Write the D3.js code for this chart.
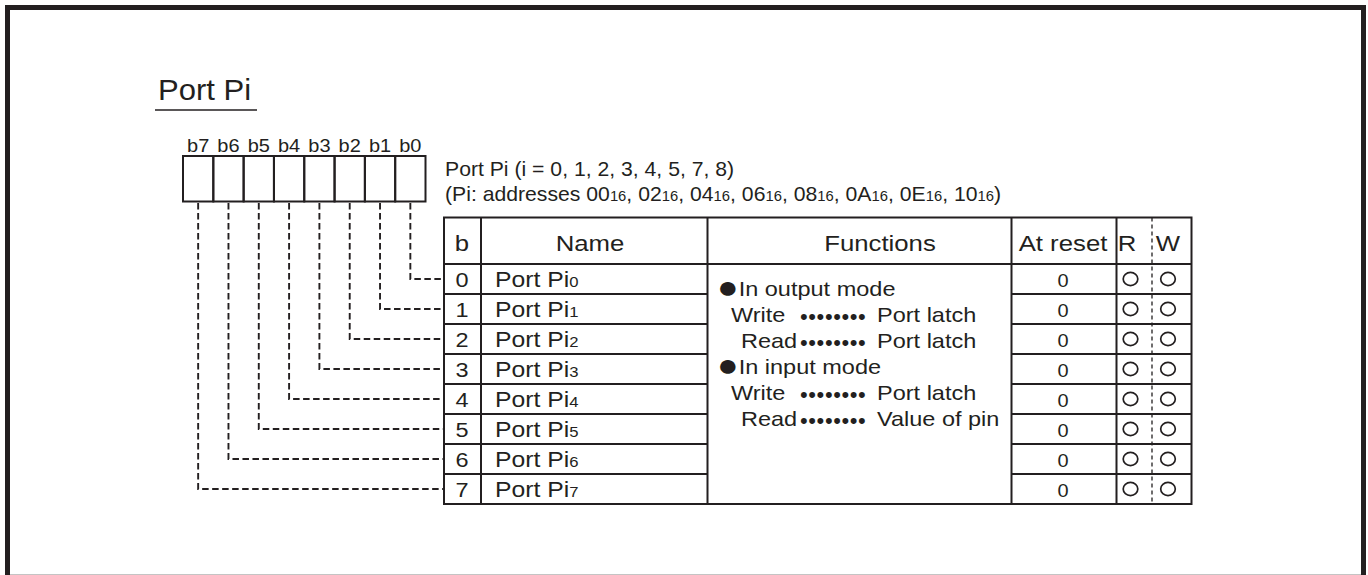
<!DOCTYPE html>
<html>
<head>
<meta charset="utf-8">
<script src="https://cdn.jsdelivr.net/npm/d3@7"></script>
<style>
  html, body { margin: 0; padding: 0; background: #ffffff; }
  svg { display: block; }
  text { font-family: "Liberation Sans", Arial, Helvetica, sans-serif; fill: #231f20; }
</style>
</head>
<body>
<svg id="chart" width="1368" height="575"></svg>
<script>
// ---------------- data ----------------
const title = "Port Pi";
const bitLabels = ["b7", "b6", "b5", "b4", "b3", "b2", "b1", "b0"];
const rowBits = [0, 1, 2, 3, 4, 5, 6, 7];
const nameBase = "Port Pi";
const nameSubs = ["0", "1", "2", "3", "4", "5", "6", "7"];
const resetValues = ["0", "0", "0", "0", "0", "0", "0", "0"];
const readable = [true, true, true, true, true, true, true, true];
const writable = [true, true, true, true, true, true, true, true];
const portIndices = ["0", "1", "2", "3", "4", "5", "7", "8"];
const addressHex = ["00", "02", "04", "06", "08", "0A", "0E", "10"];
const headers = ["b", "Name", "Functions", "At reset", "R", "W"];
const functionLines = [
  { bullet: true,  label: "In output mode" },
  { bullet: false, label: "Write", value: "Port latch" },
  { bullet: false, label: "Read",  value: "Port latch" },
  { bullet: true,  label: "In input mode" },
  { bullet: false, label: "Write", value: "Port latch" },
  { bullet: false, label: "Read",  value: "Value of pin" }
];

// ---------------- layout ----------------
const ink = "#231f20";
const svg = d3.select("#chart");
const SX = 1.12; // horizontal stretch of glyphs in the reference

function txt(g, x, y, size, anchor, sx) {
  return g.append("text")
    .attr("transform", `translate(${x},${y}) scale(${sx || SX},1)`)
    .attr("font-size", size)
    .attr("text-anchor", anchor || "start");
}

// outer frame
svg.append("path")
  .attr("d", "M7.5,580 V7.5 H1363.5 V580")
  .attr("fill", "none").attr("stroke", ink).attr("stroke-width", 5);
svg.append("line")
  .attr("x1", 10).attr("x2", 1361).attr("y1", 574.5).attr("y2", 574.5)
  .attr("stroke", "#c4c4c4").attr("stroke-width", 1);

// title
txt(svg, 158, 100, 29, "start", 1.07).text(title);
svg.append("line").attr("x1", 155).attr("x2", 257).attr("y1", 110).attr("y2", 110)
  .attr("stroke", ink).attr("stroke-width", 1.6);

// register box
const xBit = d3.scaleBand().domain(bitLabels).range([183, 425.5]);
const boxTop = 156, boxBot = 201.5;
const reg = svg.append("g");
reg.selectAll("rect.cell").data(bitLabels).join("rect")
  .attr("class", "cell")
  .attr("x", d => xBit(d)).attr("y", boxTop)
  .attr("width", xBit.bandwidth()).attr("height", boxBot - boxTop)
  .attr("fill", "none").attr("stroke", ink).attr("stroke-width", 2);
bitLabels.forEach(b => {
  txt(reg, xBit(b) + xBit.bandwidth() / 2, 151.5, 18.5, "middle", 1.08).text(b);
});

// description text
const desc1 = txt(svg, 445, 176, 20, "start", 1.06);
desc1.text(`Port Pi (i = ${portIndices.join(", ")})`);
const desc2 = txt(svg, 445, 200.5, 20, "start", 1.06);
desc2.append("tspan").text("(Pi: addresses ");
addressHex.forEach((a, i) => {
  desc2.append("tspan").text(a);
  desc2.append("tspan").attr("font-size", 14).text("16");
  desc2.append("tspan").text(i < addressHex.length - 1 ? ", " : ")");
});

// table
const colX = [444, 481, 707.5, 1011.5, 1116.5, 1152, 1191.5];
const tableTop = 217.5, headBot = 264, tableBot = 504;
const yRow = d3.scaleBand().domain(rowBits).range([headBot, tableBot]);
const tbl = svg.append("g");

tbl.append("rect").attr("x", colX[0]).attr("y", tableTop)
  .attr("width", colX[6] - colX[0]).attr("height", tableBot - tableTop)
  .attr("fill", "none").attr("stroke", ink).attr("stroke-width", 2);
[1, 2, 3, 4].forEach(i => {
  tbl.append("line").attr("x1", colX[i]).attr("x2", colX[i])
    .attr("y1", tableTop).attr("y2", tableBot)
    .attr("stroke", ink).attr("stroke-width", 2);
});
tbl.append("line").attr("x1", colX[5]).attr("x2", colX[5])
  .attr("y1", tableTop).attr("y2", tableBot)
  .attr("stroke", ink).attr("stroke-width", 1.3).attr("stroke-dasharray", "4,3");
tbl.append("line").attr("x1", colX[0]).attr("x2", colX[6])
  .attr("y1", headBot).attr("y2", headBot)
  .attr("stroke", ink).attr("stroke-width", 2);
rowBits.slice(1).forEach(r => {
  const y = yRow(r);
  tbl.append("line").attr("x1", colX[0]).attr("x2", colX[2]).attr("y1", y).attr("y2", y)
    .attr("stroke", ink).attr("stroke-width", 2);
  tbl.append("line").attr("x1", colX[3]).attr("x2", colX[6]).attr("y1", y).attr("y2", y)
    .attr("stroke", ink).attr("stroke-width", 2);
});

// headers
const headCx = [462, 590, 880, 1063, 1127, 1168];
headers.forEach((h, i) => {
  txt(tbl, headCx[i], 251, 23, "middle").text(h);
});

// rows
const rc = r => yRow(r) + yRow.bandwidth() / 2;
rowBits.forEach(r => {
  const cy = rc(r);
  txt(tbl, 462, cy + 7.5, 21, "middle").text(String(r));
  const n = txt(tbl, 495, cy + 7.5, 21.5, "start", 1.15);
  n.append("tspan").text(nameBase);
  n.append("tspan").attr("font-size", 14.5).text(nameSubs[r]);
  txt(tbl, 1063, cy + 7.5, 19, "middle", 1.05).text(resetValues[r]);
  if (readable[r]) tbl.append("ellipse").attr("cx", 1130.5).attr("cy", cy)
    .attr("rx", 7.3).attr("ry", 6.6).attr("fill", "none").attr("stroke", ink).attr("stroke-width", 1.7);
  if (writable[r]) tbl.append("ellipse").attr("cx", 1168).attr("cy", cy)
    .attr("rx", 7.3).attr("ry", 6.6).attr("fill", "none").attr("stroke", ink).attr("stroke-width", 1.7);
});

// connectors
const conn = svg.append("g");
rowBits.forEach(r => {
  const cx = xBit("b" + r) + xBit.bandwidth() / 2;
  conn.append("path")
    .attr("d", `M${cx},${boxBot + 1.5} V${rc(r)} H${colX[0]}`)
    .attr("fill", "none").attr("stroke", ink).attr("stroke-width", 1.9)
    .attr("stroke-dasharray", "6.5,3.5");
});

// functions text
const fnBase = 296, fnStep = 26;
functionLines.forEach((f, i) => {
  const y = fnBase + i * fnStep;
  if (f.bullet) {
    const t = txt(tbl, 717, y, 21, "start");
    t.append("tspan").attr("font-size", 32).attr("dy", 1.5).text("\u25CF");
    t.append("tspan").attr("dy", -1.5).text(f.label);
  } else {
    const x0 = f.label === "Read" ? 741 : 731;
    txt(tbl, x0, y, 21, "start").text(f.label);
    txt(tbl, 800, y + 1.5, 22, "start", 1.0).attr("letter-spacing", 0.6)
      .text("\u2022\u2022\u2022\u2022\u2022\u2022\u2022\u2022");
    txt(tbl, 877, y, 21, "start").text(f.value);
  }
});
</script>
</body>
</html>
